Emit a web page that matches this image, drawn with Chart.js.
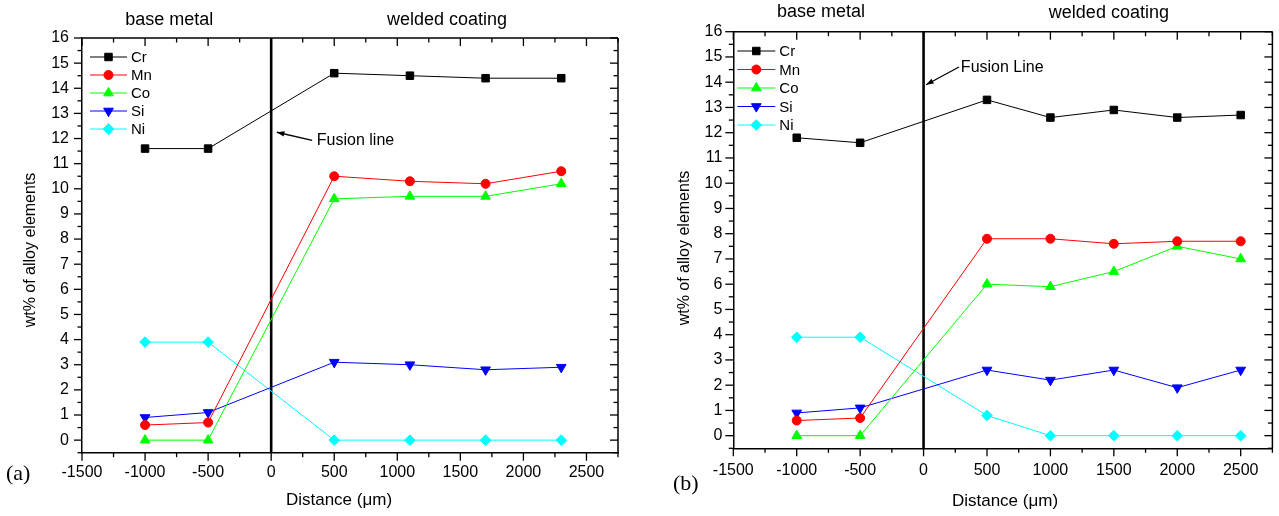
<!DOCTYPE html>
<html>
<head>
<meta charset="utf-8">
<script src="https://cdn.jsdelivr.net/npm/chart.js@4/dist/chart.umd.min.js"></script>
<style>
  html, body { margin: 0; padding: 0; background: #fff; }
  .panel { position: absolute; top: 0; height: 516px; }
</style>
</head>
<body>
<div class="panel" style="left:0;width:640px"><canvas id="chartA" width="640" height="516"></canvas></div>
<div class="panel" style="left:640px;width:639px"><canvas id="chartB" width="639" height="516"></canvas></div>
<script>
// element names, in legend order
const elements = ['Cr', 'Mn', 'Co', 'Si', 'Ni'];

// panel (a)
const distA = [-1000, -500, 500, 1100, 1700, 2300];
const crA = [11.6, 11.6, 14.6, 14.5, 14.4, 14.4];
const mnA = [0.6, 0.7, 10.5, 10.3, 10.2, 10.7];
const coA = [0, 0, 9.6, 9.7, 9.7, 10.2];
const siA = [0.9, 1.1, 3.1, 3.0, 2.8, 2.9];
const niA = [3.9, 3.9, 0, 0, 0, 0];

// panel (b)
const distB = [-1000, -500, 500, 1000, 1500, 2000, 2500];
const crB = [11.8, 11.6, 13.3, 12.6, 12.9, 12.6, 12.7];
const mnB = [0.6, 0.7, 7.8, 7.8, 7.6, 7.7, 7.7];
const coB = [0, 0, 6.0, 5.9, 6.5, 7.5, 7.0];
const siB = [0.9, 1.1, 2.6, 2.2, 2.6, 1.9, 2.6];
const niB = [3.9, 3.9, 0.8, 0, 0, 0, 0];

// axes and tick labels
const xMin = -1500, xMax = 2750, xStep = 500;
const yMin = -0.5, yMax = 16, yStep = 1;
const xTickVals = [-1500, -1000, -500, 0, 500, 1000, 1500, 2000, 2500];
const yTickVals = [0, 1, 2, 3, 4, 5, 6, 7, 8, 9, 10, 11, 12, 13, 14, 15, 16];
const fusionX = 0;

const FONT = '"Liberation Sans", Arial, Helvetica, sans-serif';
const colors = ['#000000', '#ff0000', '#00ff00', '#0000ff', '#00ffff'];
const markers = [
  { style: 'rect', radius: 5.3, rotation: 0 },
  { style: 'circle', radius: 4.5, rotation: 0 },
  { style: 'triangle', radius: 5.6, rotation: 0 },
  { style: 'triangle', radius: 5.6, rotation: 180 },
  { style: 'rectRot', radius: 5.3, rotation: 0 }
];

function makeDatasets(xs, series) {
  return series.map((vals, i) => ({
    label: elements[i],
    data: xs.map((x, j) => ({ x: x, y: vals[j] })),
    showLine: true,
    borderColor: colors[i],
    backgroundColor: colors[i],
    borderWidth: 1,
    pointStyle: markers[i].style,
    pointRadius: markers[i].radius,
    pointRotation: markers[i].rotation,
    pointBorderWidth: 1,
    pointBorderColor: colors[i],
    pointBackgroundColor: colors[i],
    clip: false
  }));
}

function line(ctx, x1, y1, x2, y2) {
  ctx.beginPath(); ctx.moveTo(x1, y1); ctx.lineTo(x2, y2); ctx.stroke();
}

// ticks on all four sides, fusion line, legend, notes
const framePlugin = {
  id: 'frame',
  beforeDatasetsDraw(chart, args, o) {
    const { ctx, chartArea: a, scales: { x } } = chart;
    const fx = x.getPixelForValue(fusionX);
    ctx.save();
    ctx.strokeStyle = '#000';
    ctx.lineWidth = 2.6;
    line(ctx, fx, a.top, fx, a.bottom);
    ctx.restore();
  },
  afterDraw(chart, args, o) {
    const { ctx, chartArea: a, scales: { x, y } } = chart;
    ctx.save();
    ctx.strokeStyle = '#000';
    ctx.lineWidth = 1.5;
    // top and right frame lines
    line(ctx, a.left, a.top, a.right, a.top);
    line(ctx, a.right, a.top, a.right, a.bottom);

    const big = 8, small = 4.5;
    ctx.lineWidth = 1.3;
    for (let v = xMin; v <= xMax + 1e-6; v += xStep / 2) {
      const px = x.getPixelForValue(v);
      const len = (v % xStep === 0) ? big : small;
      line(ctx, px, a.bottom, px, a.bottom + len);
      line(ctx, px, a.top, px, a.top + len);
    }
    for (let v = yMin; v <= yMax + 1e-6; v += yStep / 2) {
      const py = y.getPixelForValue(v);
      const len = (Math.abs(v % yStep) < 1e-6) ? big : small;
      line(ctx, a.left - len, py, a.left, py);
      line(ctx, a.right - len, py, a.right, py);
    }

    // legend
    const lg = o.legend;
    chart.data.datasets.forEach((ds, i) => {
      const ly = a.top + lg.dy + i * lg.step;
      const lx = a.left + lg.dx;
      ctx.strokeStyle = ds.borderColor;
      ctx.lineWidth = 1;
      line(ctx, lx, ly, lx + lg.len, ly);
      ctx.fillStyle = ds.backgroundColor;
      ctx.strokeStyle = ds.borderColor;
      if (Chart.helpers && Chart.helpers.drawPoint) {
        Chart.helpers.drawPoint(ctx, {
          pointStyle: ds.pointStyle, radius: ds.pointRadius,
          rotation: ds.pointRotation, borderWidth: 1
        }, lx + lg.len / 2, ly);
      }
      ctx.fillStyle = '#000';
      ctx.font = '15px ' + FONT;
      ctx.textAlign = 'left';
      ctx.textBaseline = 'middle';
      ctx.fillText(ds.label, lx + lg.len + 4, ly + 1);
    });

    // region titles above the plot
    ctx.fillStyle = '#000';
    ctx.font = '18px ' + FONT;
    ctx.textAlign = 'center';
    ctx.textBaseline = 'middle';
    o.titles.forEach(t => ctx.fillText(t.text, x.getPixelForValue(t.x), a.top - t.dy));

    // fusion line note with arrow
    const n = o.note;
    const hx = x.getPixelForValue(n.headX), hy = y.getPixelForValue(n.headY);
    const tx = x.getPixelForValue(n.tailX), ty = y.getPixelForValue(n.tailY);
    ctx.strokeStyle = '#000';
    ctx.lineWidth = 1.3;
    line(ctx, tx, ty, hx, hy);
    const ang = Math.atan2(hy - ty, hx - tx);
    ctx.beginPath();
    ctx.moveTo(hx, hy);
    ctx.lineTo(hx - 8 * Math.cos(ang - 0.35), hy - 8 * Math.sin(ang - 0.35));
    ctx.lineTo(hx - 8 * Math.cos(ang + 0.35), hy - 8 * Math.sin(ang + 0.35));
    ctx.closePath();
    ctx.fillStyle = '#000';
    ctx.fill();
    ctx.font = '16px ' + FONT;
    ctx.textAlign = 'left';
    ctx.textBaseline = 'middle';
    ctx.fillText(n.text, x.getPixelForValue(n.textX), y.getPixelForValue(n.textY));

    // axis titles
    ctx.font = '17px ' + FONT;
    ctx.textAlign = 'center';
    ctx.fillText('Distance (\u03bcm)', o.xTitle.x, o.xTitle.y);
    ctx.save();
    ctx.translate(o.yTitle.x, o.yTitle.y);
    ctx.rotate(-Math.PI / 2);
    ctx.font = '16px ' + FONT;
    ctx.fillText('wt% of alloy elements', 0, 0);
    ctx.restore();

    // panel letter
    ctx.font = '22px "Liberation Serif", "Times New Roman", serif';
    ctx.textAlign = 'left';
    ctx.fillText(o.panel.text, o.panel.x, o.panel.y);
    ctx.restore();
  }
};

function makeChart(id, xs, series, lay, frame) {
  return new Chart(document.getElementById(id), {
    type: 'scatter',
    data: { datasets: makeDatasets(xs, series) },
    options: {
      responsive: false,
      animation: false,
      layout: { padding: lay.padding },
      plugins: { legend: { display: false }, tooltip: { enabled: false }, frame: frame },
      scales: {
        x: {
          type: 'linear', min: xMin, max: xMax,
          afterFit: s => { s.height = lay.xHeight; },
          afterBuildTicks: s => { s.ticks = xTickVals.map(v => ({ value: v })); },
          grid: { display: true, drawOnChartArea: false, drawTicks: false },
          border: { display: true, color: '#000', width: 1.5 },
          ticks: {
            padding: lay.xPad, color: '#000',
            font: { family: FONT, size: 16 }, maxRotation: 0, autoSkip: false,
            callback: v => String(v)
          }
        },
        y: {
          type: 'linear', min: yMin, max: yMax,
          afterFit: s => { s.width = lay.yWidth; },
          afterBuildTicks: s => { s.ticks = yTickVals.map(v => ({ value: v })); },
          grid: { display: true, drawOnChartArea: false, drawTicks: false },
          border: { display: true, color: '#000', width: 1.5 },
          ticks: {
            padding: lay.yPad, color: '#000',
            font: { family: FONT, size: 16 }, autoSkip: false,
            callback: v => String(v)
          }
        }
      }
    },
    plugins: [framePlugin]
  });
}

makeChart('chartA', distA, [crA, mnA, coA, siA, niA],
  { padding: { left: 0, right: 22, top: 38, bottom: 0 }, xHeight: 63.3, yWidth: 82, xPad: 10, yPad: 13 },
  {
    legend: { dx: 8, dy: 19, step: 18, len: 37 },
    titles: [{ text: 'base metal', x: -808, dy: 18 }, { text: 'welded coating', x: 1394, dy: 18 }],
    note: { text: 'Fusion line', headX: 45, headY: 12.25, tailX: 325, tailY: 11.93, textX: 362, textY: 11.93 },
    xTitle: { x: 339, y: 500 },
    yTitle: { x: 31, y: 250 },
    panel: { text: '(a)', x: 6, y: 474 }
  });

makeChart('chartB', distB, [crB, mnB, coB, siB, niB],
  { padding: { left: 0, right: 2, top: 31.7, bottom: 0 }, xHeight: 67.7, yWidth: 93.3, xPad: 13, yPad: 11 },
  {
    legend: { dx: 4, dy: 19.3, step: 18.5, len: 38 },
    titles: [{ text: 'base metal', x: -808, dy: 19.5 }, { text: 'welded coating', x: 1461, dy: 18.5 }],
    note: { text: 'Fusion Line', headX: 20, headY: 13.9, tailX: 279, tailY: 14.6, textX: 294, textY: 14.56 },
    xTitle: { x: 365, y: 501 },
    yTitle: { x: 45, y: 248 },
    panel: { text: '(b)', x: 33, y: 484 }
  });
</script>
</body>
</html>
